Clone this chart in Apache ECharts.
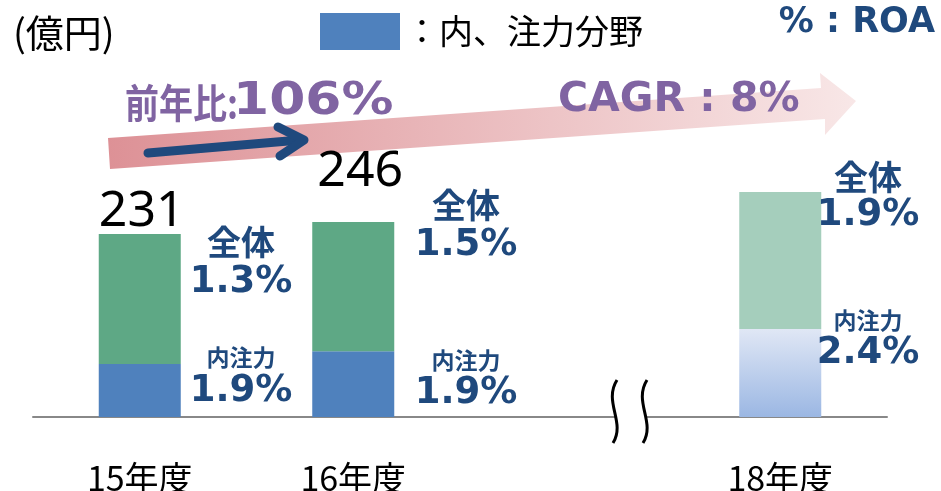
<!DOCTYPE html>
<html lang="ja">
<head>
<meta charset="UTF-8">
<title>ROA</title>
<script src="https://cdn.jsdelivr.net/npm/echarts@6/dist/echarts.min.js"></script>
<style>
  html, body { margin: 0; padding: 0; background: #fff; }
  #main { width: 941px; height: 491px; }
</style>
</head>
<body>
<div id="main"></div>
<script>
// データ（億円）
var categories = ['15年度', '16年度', '', '18年度'];
var focusValues = [67, 83, null, 111];    // 内、注力分野
var otherValues = [164, 163, null, 173];  // 全体のうち注力以外
var totalLabels = ['231', '246', '', ''];
// ROA
var roaTotal = ['1.3%', '1.5%', '', '1.9%'];
var roaFocus = ['1.9%', '1.9%', '', '2.4%'];

var jp = '"Noto Sans CJK JP", sans-serif';
var latinBold = '"DejaVu Sans", "Noto Sans CJK JP", sans-serif';
var navy = '#1f497d';
var purple = '#8064a2';

var chart = echarts.init(document.getElementById('main'));

// 棒の右側のROA表示位置 [x, 全体, %, 内注力, %]
var roaPos = [[241, 242, 282, 357, 391], [466, 205, 245, 360, 393], null, [868, 177, 215, 320, 353]];
var labelOffsets = [[2, 5], [7, -23], [0, 0], [0, 0]];

function txt(x, y, text, size, color, family, weight, extra) {
    var el = {
        type: 'text', x: x, y: y, z: 20,
        style: {
            text: text, fontSize: size, fontFamily: family, fontWeight: weight || 'normal',
            fill: color, align: 'center', verticalAlign: 'middle'
        }
    };
    if (extra) {
        for (var k in extra) {
            if (k === 'style') { for (var s in extra.style) el.style[s] = extra.style[s]; }
            else el[k] = extra[k];
        }
    }
    return el;
}

var graphics = [];
// 大きい矢印
graphics.push({
    type: 'polygon', z: 1,
    shape: { points: [[108, 138], [821, 88], [820, 73], [856, 101], [825, 135], [825, 119], [110, 169]] },
    style: {
        fill: new echarts.graphic.LinearGradient(0, 0, 1, 0, [
            { offset: 0, color: '#dd9196' },
            { offset: 1, color: '#f8e7e7' }
        ])
    }
});
// 紺の矢印
graphics.push({
    type: 'line', z: 5,
    shape: { x1: 148, y1: 153, x2: 300, y2: 140 },
    style: { stroke: navy, lineWidth: 9, lineCap: 'round' }
});
graphics.push({
    type: 'polyline', z: 5,
    shape: { points: [[278, 127], [304, 140], [280, 156]] },
    style: { stroke: navy, lineWidth: 9, lineCap: 'round', lineJoin: 'round', fill: null }
});
// 省略記号
graphics.push({ type: 'rect', z: 10, shape: { x: 615, y: 412, width: 31, height: 10 }, style: { fill: '#fff' } });
[0, 30].forEach(function (dx) {
    graphics.push({
        type: 'bezierCurve', z: 11,
        shape: { x1: 617 + dx, y1: 380, cpx1: 603 + dx, cpy1: 402, cpx2: 626 + dx, cpy2: 422, x2: 613 + dx, y2: 443 },
        style: { stroke: '#000', lineWidth: 3, fill: null }
    });
});

// タイトル類
graphics.push(txt(13, 33, '(億円)', 38, '#000', jp, 'normal', { style: { align: 'left' } }));
graphics.push(txt(935, 23, '% : ROA', 35, navy, latinBold, 'bold', { style: { align: 'right' } }));
graphics.push(txt(125, 103, '前年比:', 40, purple, jp, 'bold', { scaleX: 0.85, style: { align: 'left' } }));
graphics.push(txt(233, 103, '106%', 44, purple, latinBold, 'bold', { scaleX: 1.18, style: { align: 'left' } }));
graphics.push(txt(558, 100, 'CAGR : 8%', 41, purple, latinBold, 'bold', { style: { align: 'left' } }));

roaPos.forEach(function (p, i) {
    if (!p) return;
    graphics.push(txt(p[0], p[1], '全体', 34, navy, jp, 'bold'));
    graphics.push(txt(p[0], p[2], roaTotal[i], 37, navy, latinBold, 'bold'));
    graphics.push(txt(p[0], p[3], '内注力', 23, navy, jp, 'bold'));
    graphics.push(txt(p[0], p[4], roaFocus[i], 37, navy, latinBold, 'bold'));
});

var focusData = focusValues.map(function (v, i) {
    if (i === 3) {
        return {
            value: v,
            itemStyle: {
                color: new echarts.graphic.LinearGradient(0, 0, 0, 1, [
                    { offset: 0, color: '#e0e7f5' },
                    { offset: 1, color: '#9bb7e3' }
                ])
            }
        };
    }
    return v;
});
var otherData = otherValues.map(function (v, i) {
    var d = { value: v, label: { offset: labelOffsets[i] } };
    if (i === 3) d.itemStyle = { color: '#a5cebc' };
    return d;
});

myOption = {
    animation: false,
    grid: { left: 33, right: 54, top: 179.25, bottom: 74, containLabel: false, outerBoundsMode: 'none' },
    legend: {
        data: ['内、注力分野'],
        left: 315, top: 8,
        icon: 'rect', itemWidth: 80, itemHeight: 37,
        formatter: '：{name}',
        textStyle: { fontSize: 34, fontFamily: jp, color: '#000' }
    },
    xAxis: {
        type: 'category',
        data: categories,
        axisLine: { lineStyle: { color: '#888', width: 2 } },
        axisTick: { show: false },
        axisLabel: { fontSize: 34, fontFamily: jp, color: '#000', margin: 44 }
    },
    yAxis: { type: 'value', min: 0, max: 300, show: false },
    series: [{
        name: '内、注力分野',
        type: 'bar', stack: 'a', barWidth: 82,
        itemStyle: { color: '#4f81bd' },
        data: focusData
    }, {
        name: '全体',
        type: 'bar', stack: 'a', barWidth: 82,
        itemStyle: { color: '#5ea885' },
        label: {
            show: true, position: 'top', distance: 2,
            fontSize: 50, fontFamily: '"Noto Sans", sans-serif', color: '#000',
            formatter: function (p) { return totalLabels[p.dataIndex]; }
        },
        data: otherData
    }],
    graphic: graphics
};
chart.setOption(myOption);
</script>
</body>
</html>
